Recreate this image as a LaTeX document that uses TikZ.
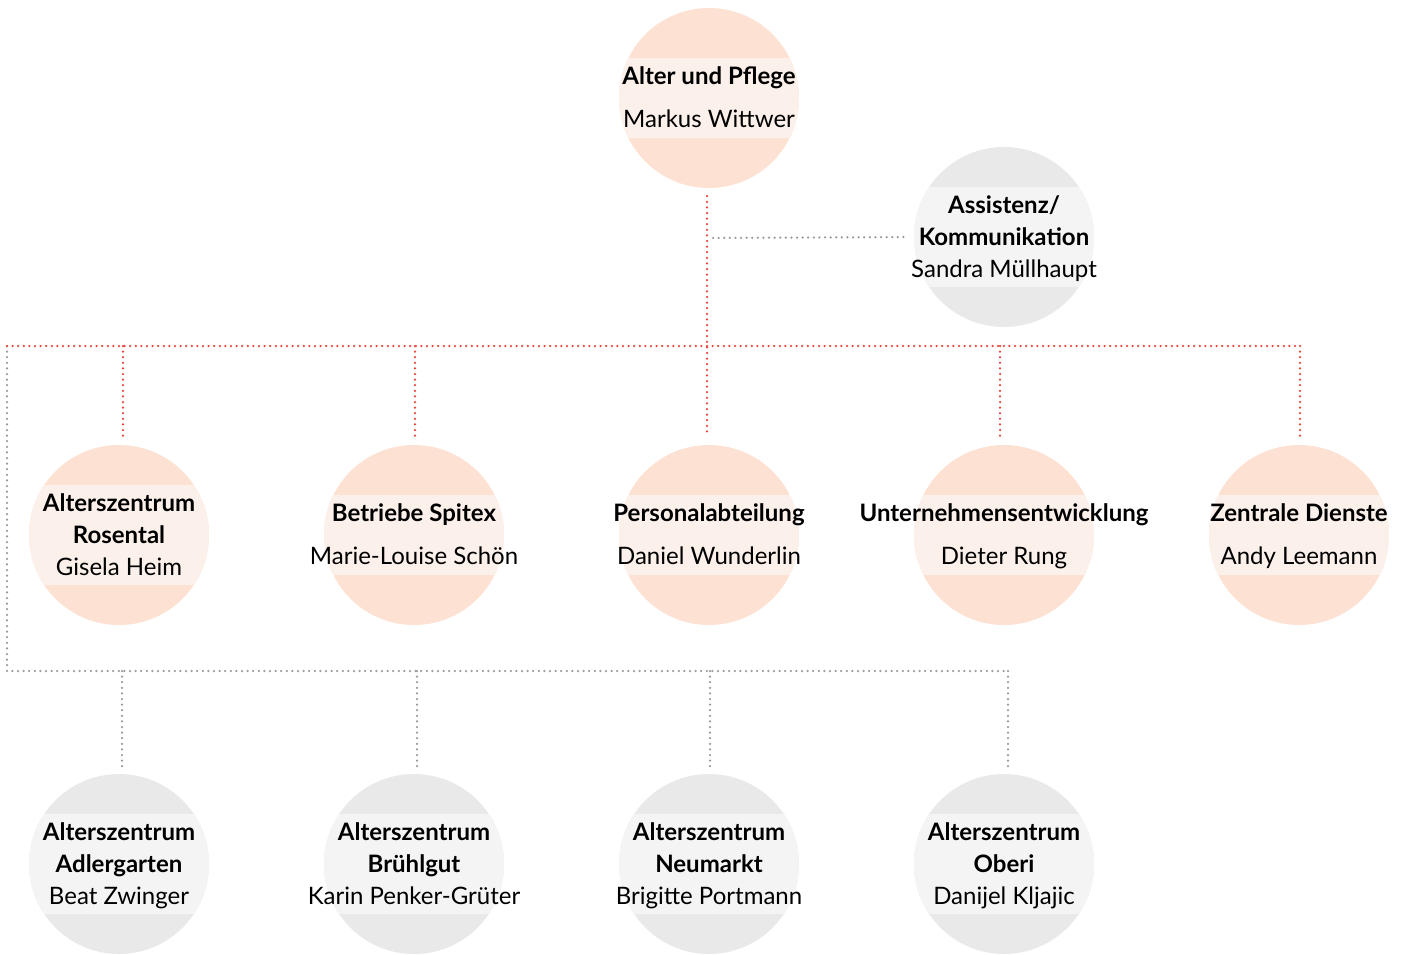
\documentclass[tikz,border=0pt]{standalone}
\usepackage{fontspec}
\setmainfont{Lato}
\definecolor{peach}{HTML}{FDE1D3}
\definecolor{peachband}{HTML}{FCF0EA}
\definecolor{greyc}{HTML}{E9E9E9}
\definecolor{greyband}{HTML}{F4F4F4}
\definecolor{reddot}{HTML}{E8473B}
\definecolor{greydot}{HTML}{9A9A9A}
\newcommand\orgband[3]{\begin{scope}\clip (#2.center) circle[radius=90pt];
  \fill[#1] ([yshift=#3pt]#2.west) rectangle ([yshift=-#3pt]#2.east);\end{scope}}
\begin{document}
\begin{tikzpicture}[x=1pt,y=-1pt,
  circ/.style={circle, minimum size=180pt, inner sep=0pt},
  pcirc/.style={circ, fill=peach},
  gcirc/.style={circ, fill=greyc},
  lbl/.style={align=center, font=\fontsize{24}{32}\selectfont, text=black, inner sep=0pt, yshift=-2pt},
  reddots/.style={draw=reddot, line width=2.5pt, line cap=round, dash pattern=on 0pt off 5.6pt},
  greydots/.style={draw=greydot, line width=2.5pt, line cap=round, dash pattern=on 0pt off 5.6pt}]
\useasboundingbox (0,0) rectangle (1411,954);
% top
\node[pcirc] (top) at (709,98) {};
\orgband{peachband}{top}{40}
\node[lbl] at (top.center) {\strut\textbf{Alter und Pflege}\\[11pt]Markus Wittwer\strut};
% assistenz
\node[gcirc] (as) at (1004,237) {};
\orgband{greyband}{as}{50}
\node[lbl] at (as.center) {\strut\textbf{Assistenz/}\\\textbf{Kommunikation}\\Sandra Müllhaupt\strut};
% row 2
\node[pcirc] (r1) at (119,535) {};
\orgband{peachband}{r1}{50}
\node[lbl] at (r1.center) {\strut\textbf{Alterszentrum}\\\textbf{Rosental}\\Gisela Heim\strut};
\node[pcirc] (r2) at (414,535) {};
\orgband{peachband}{r2}{40}
\node[lbl] at (r2.center) {\strut\textbf{Betriebe Spitex}\\[11pt]Marie-Louise Schön\strut};
\node[pcirc] (r3) at (709,535) {};
\orgband{peachband}{r3}{40}
\node[lbl] at (r3.center) {\strut\textbf{Personalabteilung}\\[11pt]Daniel Wunderlin\strut};
\node[pcirc] (r4) at (1004,535) {};
\orgband{peachband}{r4}{40}
\node[lbl] at (r4.center) {\strut\textbf{Unternehmensentwicklung}\\[11pt]Dieter Rung\strut};
\node[pcirc] (r5) at (1299,535) {};
\orgband{peachband}{r5}{40}
\node[lbl] at (r5.center) {\strut\textbf{Zentrale Dienste}\\[11pt]Andy Leemann\strut};
% row 3
\node[gcirc] (b1) at (119,864) {};
\orgband{greyband}{b1}{50}
\node[lbl] at (b1.center) {\strut\textbf{Alterszentrum}\\\textbf{Adlergarten}\\Beat Zwinger\strut};
\node[gcirc] (b2) at (414,864) {};
\orgband{greyband}{b2}{50}
\node[lbl] at (b2.center) {\strut\textbf{Alterszentrum}\\\textbf{Brühlgut}\\Karin Penker-Grüter\strut};
\node[gcirc] (b3) at (709,864) {};
\orgband{greyband}{b3}{50}
\node[lbl] at (b3.center) {\strut\textbf{Alterszentrum}\\\textbf{Neumarkt}\\Brigitte Portmann\strut};
\node[gcirc] (b4) at (1004,864) {};
\orgband{greyband}{b4}{50}
\node[lbl] at (b4.center) {\strut\textbf{Alterszentrum}\\\textbf{Oberi}\\Danijel Kljajic\strut};
% connectors
\coordinate (hl) at (7,346);
\coordinate (hr) at (1300,346);
\coordinate (gl) at (7,671);
\coordinate (gr) at (1008,671);
\coordinate (aj) at (713,238);
\draw[greydots, shorten >=6pt] (aj) -- (as.west);
\draw[greydots] (hl) -- (gl) -- (gr);
\foreach \n/\dx in {b1/3,b2/3,b3/1,b4/4}
  \draw[greydots, shorten >=7pt] ([xshift=\dx pt]\n.north |- gl) -- ([xshift=\dx pt]\n.north);
\draw[reddots] (hl) -- (hr);
\draw[reddots, shorten <=8pt, shorten >=8pt] ([xshift=-2pt]top.south) -- ([xshift=-2pt]r3.north);
\foreach \n/\dx in {r1/4,r2/1,r4/-4,r5/1}
  \draw[reddots, shorten >=8pt] ([xshift=\dx pt]\n.north |- hl) -- ([xshift=\dx pt]\n.north);
\end{tikzpicture}
\end{document}
